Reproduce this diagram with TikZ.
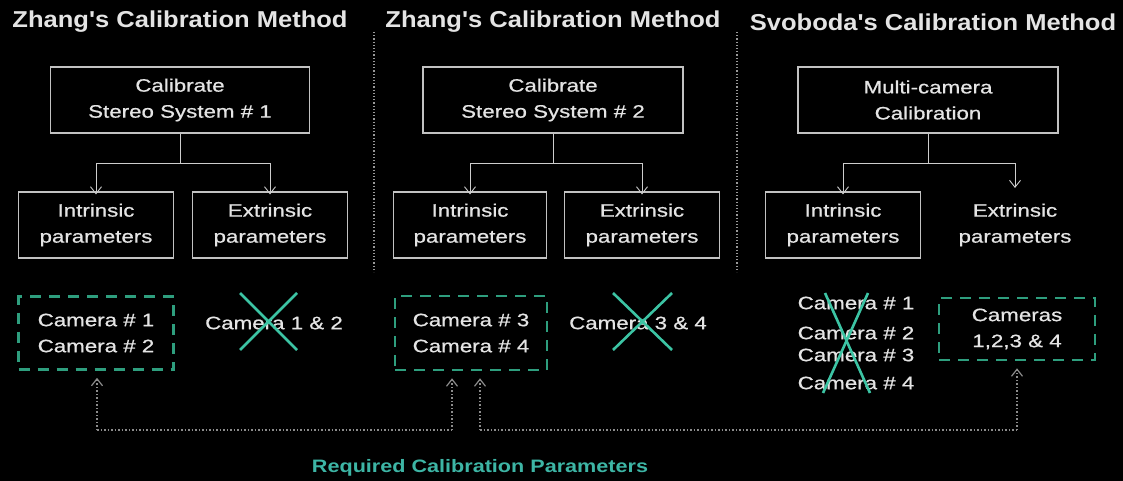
\documentclass[tikz,border=0pt]{standalone}
\usepackage{fontspec}
\setmainfont[FakeStretch=1.24,FakeBold=0.7]{Liberation Sans}
\newfontfamily\titlefont[FakeStretch=1.11]{Liberation Sans}
\newfontfamily\captfont[FakeStretch=1.2]{Liberation Sans}
\usetikzlibrary{arrows.meta}
\definecolor{txt}{HTML}{E4E4E4}
\definecolor{teal1}{HTML}{2E9E7E}
\definecolor{teal2}{HTML}{3CC4A4}
\definecolor{capt}{HTML}{3DB5A5}
\tikzset{
  ttl/.style={text=txt,font=\titlefont\bfseries\fontsize{23}{26}\selectfont,inner sep=0pt},
  box/.style={draw=txt!85!black,line width=1.1pt,text=txt,align=center,
    font=\fontsize{18}{26}\selectfont,inner sep=0pt},
  plain/.style={text=txt,align=center,font=\fontsize{18}{26}\selectfont,inner sep=0pt},
  dbox/.style={draw=teal1,line width=2.6pt,dash pattern=on 11pt off 8pt,text=txt,align=center,
    font=\fontsize{18}{26}\selectfont,inner sep=0pt},
  link/.style={draw=txt!90!black,line width=0.9pt,-{Straight Barb[length=7pt,width=11pt]}},
  divider/.style={draw=gray!80,line width=1.2pt,dash pattern=on 1.2pt off 2pt},
  conn/.style={draw=gray!90,line width=1.2pt,dash pattern=on 1.5pt off 2pt},
  connarrow/.style={conn,-{Straight Barb[length=7pt,width=11pt]},shorten >=7pt},
  crossline/.style={draw=teal2,line width=2.6pt}
}
\begin{document}
\begin{tikzpicture}[x=1pt,y=-1pt]
\fill[black] (0,0) rectangle (1123,481);
\useasboundingbox (0,0) rectangle (1123,481);

% titles
\node[ttl] (t1) at (180,22) {Zhang's Calibration Method};
\node[ttl] (t2) at (553,22) {Zhang's Calibration Method};
\node[ttl] (t3) at (933,22) {Svoboda's Calibration Method};

% dividers
\coordinate (v1a) at (374,32); \coordinate (v1b) at (374,272);
\coordinate (v2a) at (737,32); \coordinate (v2b) at (737,272);
\draw[divider] (v1a) -- (v1b);
\draw[divider] (v2a) -- (v2b);

% panel 1
\node[box,minimum width=259pt,minimum height=66pt] (cal1) at (180,100) {Calibrate\\Stereo System \# 1};
\node[box,minimum width=155pt,minimum height=66pt] (in1) at (96,225) {Intrinsic\\parameters};
\node[box,minimum width=155pt,minimum height=66pt] (ex1) at (270,225) {Extrinsic\\parameters};
\coordinate (j1) at (180,163);
\draw[line width=0.9pt,draw=txt!90!black] (cal1.south) -- (j1);
\draw[link] (j1) -| ([yshift=-3pt]in1.north);
\draw[link] (j1) -| ([yshift=-3pt]ex1.north);

% panel 2
\node[box,minimum width=260pt,minimum height=66pt] (cal2) at (553,100) {Calibrate\\Stereo System \# 2};
\node[box,minimum width=153pt,minimum height=66pt] (in2) at (470,225) {Intrinsic\\parameters};
\node[box,minimum width=155pt,minimum height=66pt] (ex2) at (642,225) {Extrinsic\\parameters};
\coordinate (j2) at (553,163);
\draw[line width=0.9pt,draw=txt!90!black] (cal2.south) -- (j2);
\draw[link] (j2) -| ([yshift=-3pt]in2.north);
\draw[link] (j2) -| ([yshift=-3pt]ex2.north);

% panel 3
\node[box,minimum width=260pt,minimum height=66pt] (cal3) at (928,100) {Multi-camera\\Calibration};
\node[box,minimum width=155pt,minimum height=66pt] (in3) at (843,225) {Intrinsic\\parameters};
\node[plain] (ex3) at (1015,225) {Extrinsic\\parameters};
\coordinate (j3) at (928,163);
\draw[line width=0.9pt,draw=txt!90!black] (cal3.south) -- (j3);
\draw[link] (j3) -| ([yshift=-3pt]in3.north);
\draw[link] (j3) -| (1015,188);

% bottom row
\node[dbox,minimum width=155pt,minimum height=73pt] (d1) at (96,333) {Camera \# 1\\Camera \# 2};
\node[plain] (c12) at (274,323) {Camera 1 \& 2};
\draw[crossline] (240,293) -- (297,350);
\draw[crossline] (297,293) -- (240,350);

\node[dbox,minimum width=152pt,minimum height=74pt] (d2) at (471,333) {Camera \# 3\\Camera \# 4};
\node[plain] (c34) at (638,323) {Camera 3 \& 4};
\draw[crossline] (613,293) -- (672,350);
\draw[crossline] (672,293) -- (613,350);

\node[plain] (clist) at (856,343) {Camera \# 1\\[4pt]Camera \# 2\\[-4pt]Camera \# 3\\[2pt]Camera \# 4};
\draw[crossline] (825,293) -- (870,393);
\draw[crossline] (868,293) -- (823,393);

\node[dbox,minimum width=156pt,minimum height=62pt] (d3) at (1017,329) {Cameras\\1,2,3 \& 4};

% required parameters connectors
\coordinate (a1) at (97,430); \coordinate (a2) at (452,430);
\coordinate (b1) at (480,430); \coordinate (b2) at (1017,430);
\draw[conn] (a1) -- (a2);
\draw[conn] (b1) -- (b2);
\draw[connarrow] (a1) -- (a1 |- d1.south);
\draw[connarrow] (a2) -- (a2 |- d2.south);
\draw[connarrow] (b1) -- (b1 |- d2.south);
\draw[connarrow] (b2) -- (b2 |- d3.south);

\node[text=capt,font=\captfont\bfseries\fontsize{18}{20}\selectfont,inner sep=0pt] (req) at (480,468) {Required Calibration Parameters};
\end{tikzpicture}
\end{document}
